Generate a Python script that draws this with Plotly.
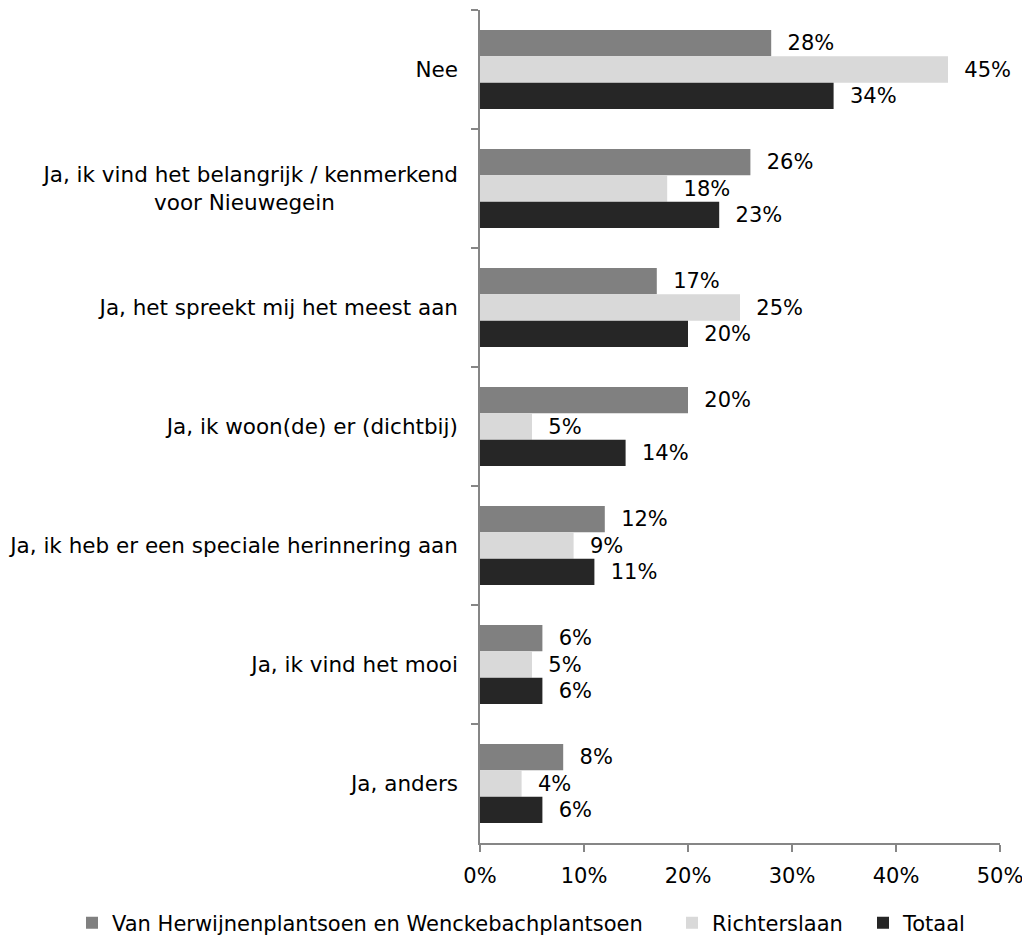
import plotly.graph_objects as go

categories = [
    "Nee",
    "Ja, ik vind het belangrijk / kenmerkend<br>voor Nieuwegein" + "\u00a0" * 18,
    "Ja, het spreekt mij het meest aan",
    "Ja, ik woon(de) er (dichtbij)",
    "Ja, ik heb er een speciale herinnering aan",
    "Ja, ik vind het mooi",
    "Ja, anders",
]
series_names = ["Van Herwijnenplantsoen en Wenckebachplantsoen", "Richterslaan", "Totaal"]
van_herwijnen = [28, 26, 17, 20, 12, 6, 8]
richterslaan = [45, 18, 25, 5, 9, 5, 4]
totaal = [34, 23, 20, 14, 11, 6, 6]
x_ticks = [0, 10, 20, 30, 40, 50]
x_tick_labels = ["0%", "10%", "20%", "30%", "40%", "50%"]

colors = ["#808080", "#d9d9d9", "#262626"]
legend_ids = ["legend", "legend2", "legend3"]
# the page body has an 8px margin, so the figure is drawn 8px right/down
OFF = 8
legend_left_px = [72 - OFF, 672 - OFF, 863 - OFF]
FONT = "DejaVu Sans"
FS = 21
FS_CAT = 21.5
W, H = 1030 - OFF, 935 - OFF

fig = go.Figure()
for name, vals, col, lid in zip(series_names, [van_herwijnen, richterslaan, totaal], colors, legend_ids):
    fig.add_trace(go.Bar(
        name=name, y=categories, x=vals, orientation="h",
        marker=dict(color=col, line=dict(width=0)),
        text=["\u00a0\u00a0" + f"{v}%" for v in vals],
        textposition="outside", cliponaxis=False,
        textfont=dict(family=FONT, size=FS, color="#000000"),
        hoverinfo="skip", legend=lid,
    ))

legend_common = dict(
    orientation="h", xref="container", yref="container",
    xanchor="left", y=1 - (923 - OFF) / H, yanchor="middle",
    font=dict(family=FONT, size=FS, color="#000000"),
    itemwidth=30, bgcolor="rgba(0,0,0,0)",
)
layout_legends = {lid: dict(legend_common, x=px / W) for lid, px in zip(legend_ids, legend_left_px)}

fig.update_layout(
    width=W, height=H,
    margin=dict(l=480 - OFF, r=1030 - 1000, t=10 - OFF, b=935 - 843, autoexpand=False),
    paper_bgcolor="white", plot_bgcolor="white",
    barmode="group", bargap=0.336, bargroupgap=0,
    font=dict(family=FONT, size=FS, color="#000000"),
    showlegend=True,
    **layout_legends,
)
fig.update_xaxes(
    range=[0, 50], tickvals=x_ticks, ticktext=x_tick_labels,
    showgrid=False, zeroline=False,
    showline=True, linecolor="#868686", linewidth=1.5,
    ticks="outside", ticklen=7, tickcolor="#868686", tickwidth=1.5,
    ticklabelstandoff=6,
    tickfont=dict(family=FONT, size=FS, color="#000000"),
)
fig.update_yaxes(
    autorange="reversed", type="category",
    showgrid=False, zeroline=False,
    showline=True, linecolor="#868686", linewidth=1.5,
    ticks="outside", ticklen=7, tickcolor="#868686", tickwidth=1.5,
    tickson="boundaries", ticklabelstandoff=16,
    tickfont=dict(family=FONT, size=FS_CAT, color="#000000"),
)

fig.write_html("out.html")
